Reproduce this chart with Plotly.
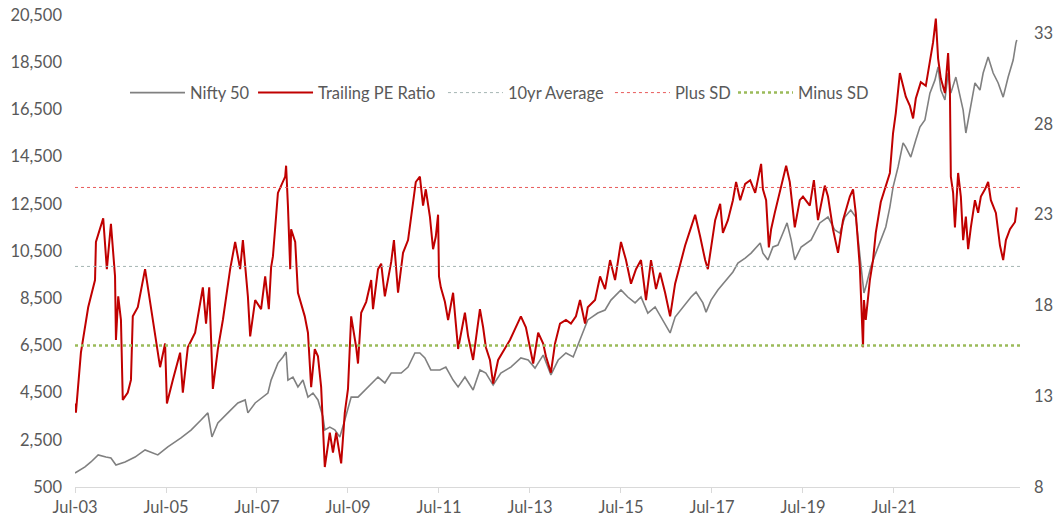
import plotly.graph_objects as go

# ---- data (x in decimal years on the chart's time axis) ----
nifty_t = [2003.50, 2003.72, 2003.85, 2004.01, 2004.18, 2004.29, 2004.40, 2004.60, 2004.82, 2005.04,
           2005.32, 2005.54, 2005.83, 2006.05, 2006.27, 2006.42, 2006.51, 2006.64, 2006.86, 2007.08,
           2007.24, 2007.30, 2007.46, 2007.59, 2007.74, 2007.81, 2007.96, 2008.07, 2008.14, 2008.18,
           2008.29, 2008.40, 2008.51, 2008.62, 2008.73, 2008.84, 2008.95, 2008.99, 2009.10, 2009.21,
           2009.32, 2009.43, 2009.50, 2009.57, 2009.72, 2009.87, 2010.05, 2010.16, 2010.31, 2010.45,
           2010.67, 2010.82, 2010.97, 2011.08, 2011.19, 2011.32, 2011.52, 2011.65, 2011.81, 2011.92,
           2012.07, 2012.25, 2012.40, 2012.53, 2012.69, 2012.86, 2013.08, 2013.30, 2013.46, 2013.61,
           2013.79, 2013.96, 2014.12, 2014.29, 2014.45, 2014.60, 2014.77, 2014.99, 2015.15, 2015.28,
           2015.50, 2015.65, 2015.81, 2015.94, 2016.09, 2016.25, 2016.38, 2016.58, 2016.69, 2016.86,
           2017.04, 2017.15, 2017.30, 2017.37, 2017.48, 2017.63, 2017.81, 2017.96, 2018.07, 2018.23,
           2018.36, 2018.56, 2018.62, 2018.73, 2018.84, 2018.95, 2019.06, 2019.15, 2019.24, 2019.32,
           2019.46, 2019.68, 2019.87, 2020.05, 2020.20, 2020.31, 2020.42, 2020.55, 2020.66, 2020.77,
           2020.84, 2020.88, 2020.99, 2021.10, 2021.21, 2021.32, 2021.41, 2021.48, 2021.59, 2021.70,
           2021.76, 2021.87, 2021.98, 2022.07, 2022.18, 2022.29, 2022.40, 2022.47, 2022.53, 2022.62,
           2022.69, 2022.75, 2022.86, 2022.95, 2023.02, 2023.08, 2023.17, 2023.28, 2023.39, 2023.46,
           2023.57, 2023.68, 2023.79, 2023.90, 2024.01, 2024.12, 2024.18, 2024.20]
nifty_v = [1093, 1350, 1560, 1860, 1770, 1730, 1430, 1560, 1770, 2070,
           1860, 2200, 2580, 2910, 3340, 3640, 2620, 3210, 3640, 4060,
           4190, 3640, 4060, 4270, 4480, 5030, 5750, 6010, 6220, 5030,
           5160, 4740, 5030, 4310, 4480, 4190, 3470, 2920, 3040, 2920,
           2620, 3340, 3890, 4310, 4310, 4610, 4950, 5160, 4910, 5330,
           5330, 5580, 6180, 6180, 5970, 5460, 5460, 5580, 5030, 4740,
           5160, 4610, 5460, 5330, 4820, 5330, 5580, 5970, 5880, 5540,
           6090, 5250, 5880, 6180, 6010, 6730, 7580, 7870, 8000, 8420,
           8850, 8550, 8300, 8550, 7870, 8130, 7700, 7030, 7700, 8130,
           8550, 8760, 8300, 7910, 8420, 8850, 9270, 9610, 9990, 10200,
           10410, 10840, 10410, 10120, 10670, 10750, 11260, 11690, 10970, 10120,
           10670, 10970, 11690, 11940, 11390, 11260, 11940, 12240, 11940, 10120,
           8720, 8970, 9820, 10410, 10970, 11520, 12360, 13210, 14060, 15080,
           14900, 14480, 15200, 15750, 16050, 17190, 17740, 18300, 17320, 16900,
           18040, 17190, 17870, 17020, 16470, 15500, 16470, 17620, 17320, 18040,
           18720, 18040, 17620, 17020, 17870, 18590, 19310, 19440]

pe_t = [2003.50, 2003.52, 2003.63, 2003.79, 2003.94, 2003.96, 2004.12, 2004.20, 2004.29, 2004.38,
        2004.40, 2004.45, 2004.51, 2004.55, 2004.66, 2004.73, 2004.77, 2004.88, 2005.04, 2005.37,
        2005.48, 2005.52, 2005.65, 2005.81, 2005.87, 2005.98, 2006.14, 2006.31, 2006.38, 2006.45,
        2006.53, 2006.64, 2006.75, 2006.91, 2007.02, 2007.13, 2007.19, 2007.30, 2007.35, 2007.46,
        2007.59, 2007.68, 2007.76, 2007.81, 2007.85, 2007.96, 2008.12, 2008.14, 2008.18, 2008.23,
        2008.25, 2008.34, 2008.40, 2008.55, 2008.62, 2008.69, 2008.77, 2008.84, 2008.91, 2008.99,
        2009.10, 2009.17, 2009.24, 2009.35, 2009.43, 2009.50, 2009.57, 2009.68, 2009.72, 2009.79,
        2009.90, 2010.01, 2010.05, 2010.16, 2010.23, 2010.31, 2010.45, 2010.51, 2010.60, 2010.71,
        2010.82, 2010.93, 2010.99, 2011.08, 2011.15, 2011.21, 2011.30, 2011.37, 2011.43, 2011.48,
        2011.50, 2011.54, 2011.63, 2011.70, 2011.81, 2011.87, 2011.92, 2012.07, 2012.14, 2012.25,
        2012.40, 2012.47, 2012.53, 2012.62, 2012.69, 2012.80, 2012.95, 2013.06, 2013.17, 2013.30,
        2013.41, 2013.57, 2013.68, 2013.79, 2013.85, 2013.96, 2014.05, 2014.16, 2014.29, 2014.40,
        2014.51, 2014.60, 2014.71, 2014.77, 2014.93, 2015.04, 2015.15, 2015.26, 2015.37, 2015.50,
        2015.61, 2015.72, 2015.83, 2015.94, 2016.05, 2016.16, 2016.27, 2016.36, 2016.47, 2016.58,
        2016.69, 2016.82, 2016.91, 2017.04, 2017.13, 2017.24, 2017.35, 2017.41, 2017.48, 2017.57,
        2017.68, 2017.74, 2017.85, 2017.96, 2018.03, 2018.12, 2018.23, 2018.34, 2018.45, 2018.51,
        2018.58, 2018.62, 2018.69, 2018.75, 2018.80, 2018.88, 2018.95, 2019.04, 2019.13, 2019.21,
        2019.28, 2019.32, 2019.43, 2019.50, 2019.65, 2019.74, 2019.83, 2019.98, 2020.05, 2020.16,
        2020.27, 2020.38, 2020.53, 2020.60, 2020.66, 2020.75, 2020.82, 2020.84, 2020.88, 2020.97,
        2021.04, 2021.10, 2021.21, 2021.32, 2021.41, 2021.48, 2021.54, 2021.63, 2021.70, 2021.76,
        2021.85, 2021.92, 2021.98, 2022.09, 2022.20, 2022.29, 2022.36, 2022.42, 2022.47, 2022.53,
        2022.62, 2022.69, 2022.73, 2022.75, 2022.80, 2022.84, 2022.91, 2022.97, 2023.02, 2023.08,
        2023.13, 2023.19, 2023.28, 2023.35, 2023.41, 2023.50, 2023.57, 2023.63, 2023.74, 2023.83,
        2023.90, 2023.96, 2024.05, 2024.16, 2024.20]
pe_v = [12.6, 12.1, 15.4, 17.9, 19.4, 21.5, 22.8, 20.0, 22.5, 19.6,
        16.1, 18.5, 17.2, 12.8, 13.2, 13.9, 17.4, 17.9, 20.0, 14.6,
        15.9, 12.6, 13.9, 15.4, 13.2, 15.7, 16.5, 19.0, 17.0, 19.0,
        13.4, 15.6, 17.2, 20.0, 21.5, 20.0, 21.6, 18.5, 16.3, 18.3,
        17.8, 19.6, 17.8, 20.1, 20.7, 24.2, 25.1, 25.7, 23.5, 20.0,
        22.2, 21.5, 18.7, 17.4, 16.5, 13.5, 15.6, 15.2, 13.5, 9.1,
        11.0, 9.9, 11.0, 9.3, 12.1, 13.4, 17.4, 15.7, 14.8, 17.6,
        18.2, 19.4, 17.8, 20.0, 20.3, 18.5, 20.4, 21.6, 18.7, 20.9,
        21.6, 23.5, 24.8, 25.1, 23.5, 24.4, 22.9, 21.1, 21.8, 23.0,
        19.6, 19.0, 18.2, 17.2, 18.7, 17.0, 15.6, 17.6, 16.3, 15.0,
        17.8, 16.8, 15.7, 15.0, 13.7, 15.0, 15.6, 16.1, 16.7, 17.4,
        16.8, 14.8, 16.5, 15.9, 15.2, 14.3, 15.9, 17.0, 17.2, 17.0,
        17.4, 18.3, 17.0, 17.9, 18.3, 19.6, 18.9, 20.5, 19.4, 21.5,
        20.5, 19.2, 20.0, 20.5, 18.3, 20.5, 18.9, 19.8, 18.7, 17.4,
        19.2, 20.5, 21.3, 22.3, 23.0, 21.8, 20.5, 20.0, 21.3, 22.7,
        23.6, 22.0, 22.7, 23.8, 24.8, 23.8, 24.7, 24.9, 24.2, 24.9,
        25.8, 24.4, 23.8, 21.2, 22.2, 23.1, 23.8, 24.8, 25.7, 24.8,
        23.3, 22.3, 23.8, 24.0, 23.5, 24.9, 22.7, 24.6, 24.0, 22.2,
        20.9, 22.7, 24.0, 24.4, 23.1, 20.1, 15.7, 18.3, 17.2, 19.4,
        20.5, 22.0, 23.7, 24.6, 25.3, 27.5, 28.6, 30.8, 30.1, 29.5,
        29.0, 28.3, 29.4, 30.3, 30.1, 31.6, 32.5, 33.8, 31.6, 30.5,
        29.7, 31.9, 29.7, 25.1, 24.2, 22.3, 25.3, 24.0, 21.6, 22.9,
        21.1, 22.3, 23.8, 23.1, 24.0, 24.4, 24.8, 23.8, 23.1, 21.3,
        20.5, 21.6, 22.2, 22.6, 23.4]

avg_10yr = 20.15
plus_sd = 24.5
minus_sd = 15.8

x_range = [2003.5, 2024.27]
tick_vals = [2003.5, 2005.5, 2007.5, 2009.5, 2011.5, 2013.5, 2015.5, 2017.5, 2019.5, 2021.5]
tick_text = ["Jul-03", "Jul-05", "Jul-07", "Jul-09", "Jul-11", "Jul-13", "Jul-15", "Jul-17", "Jul-19", "Jul-21"]
left_ticks = [500, 2500, 4500, 6500, 8500, 10500, 12500, 14500, 16500, 18500, 20500]
right_ticks = [8, 13, 18, 23, 28, 33]

FONT = "Lato"
TXT = "#595959"
FS = 16.5

fig = go.Figure()
fig.add_trace(go.Scatter(x=nifty_t, y=nifty_v, name="Nifty 50", mode="lines",
                         line=dict(color="#808080", width=1.6), yaxis="y", legend="legend"))
fig.add_trace(go.Scatter(x=pe_t, y=pe_v, name="Trailing PE Ratio", mode="lines",
                         line=dict(color="#c00000", width=2), yaxis="y2", legend="legend2"))
fig.add_trace(go.Scatter(x=x_range, y=[avg_10yr, avg_10yr], name="10yr Average", mode="lines",
                         line=dict(color="#a5b5b3", width=1, dash="dot"), yaxis="y2", legend="legend3"))
fig.add_trace(go.Scatter(x=x_range, y=[plus_sd, plus_sd], name="Plus SD", mode="lines",
                         line=dict(color="#e85a5a", width=1, dash="dot"), yaxis="y2", legend="legend4"))
fig.add_trace(go.Scatter(x=x_range, y=[minus_sd, minus_sd], name="Minus SD", mode="lines",
                         line=dict(color="#9bbb59", width=2.5, dash="dot"), yaxis="y2", legend="legend5"))

def leg(xpos):
    return dict(orientation="h", x=xpos, y=0.835, xanchor="left", yanchor="middle",
                bgcolor="rgba(0,0,0,0)", font=dict(family=FONT, size=FS, color=TXT),
                itemwidth=55)

fig.update_layout(
    width=1062, height=524,
    margin=dict(l=75, r=42, t=15, b=37, autoexpand=False),
    paper_bgcolor="white", plot_bgcolor="white",
    font=dict(family=FONT, size=FS, color=TXT),
    showlegend=True,
    legend=leg(0.0529), legend2=leg(0.1884), legend3=leg(0.3894),
    legend4=leg(0.5661), legend5=leg(0.6963),
    xaxis=dict(range=x_range, tickmode="array", tickvals=tick_vals, ticktext=tick_text,
               showgrid=False, zeroline=False, showline=True, linecolor="#d9d9d9", linewidth=1,
               ticks="outside", ticklen=5, tickcolor="#d9d9d9",
               tickfont=dict(family=FONT, size=FS, color=TXT)),
    yaxis=dict(range=[500, 20500], tickmode="array", tickvals=left_ticks,
               tickformat=",", showgrid=False, zeroline=False, showline=False,
               ticklabelstandoff=12, tickfont=dict(family=FONT, size=FS, color=TXT)),
    yaxis2=dict(range=[8, 34], tickmode="array", tickvals=right_ticks, overlaying="y",
                side="right", showgrid=False, zeroline=False, showline=False,
                ticklabelstandoff=13, tickfont=dict(family=FONT, size=FS, color=TXT)),
)

fig.write_html("out.html", config={"displayModeBar": False},
               post_script="document.body.style.margin='0px';document.body.style.overflow='hidden';")
